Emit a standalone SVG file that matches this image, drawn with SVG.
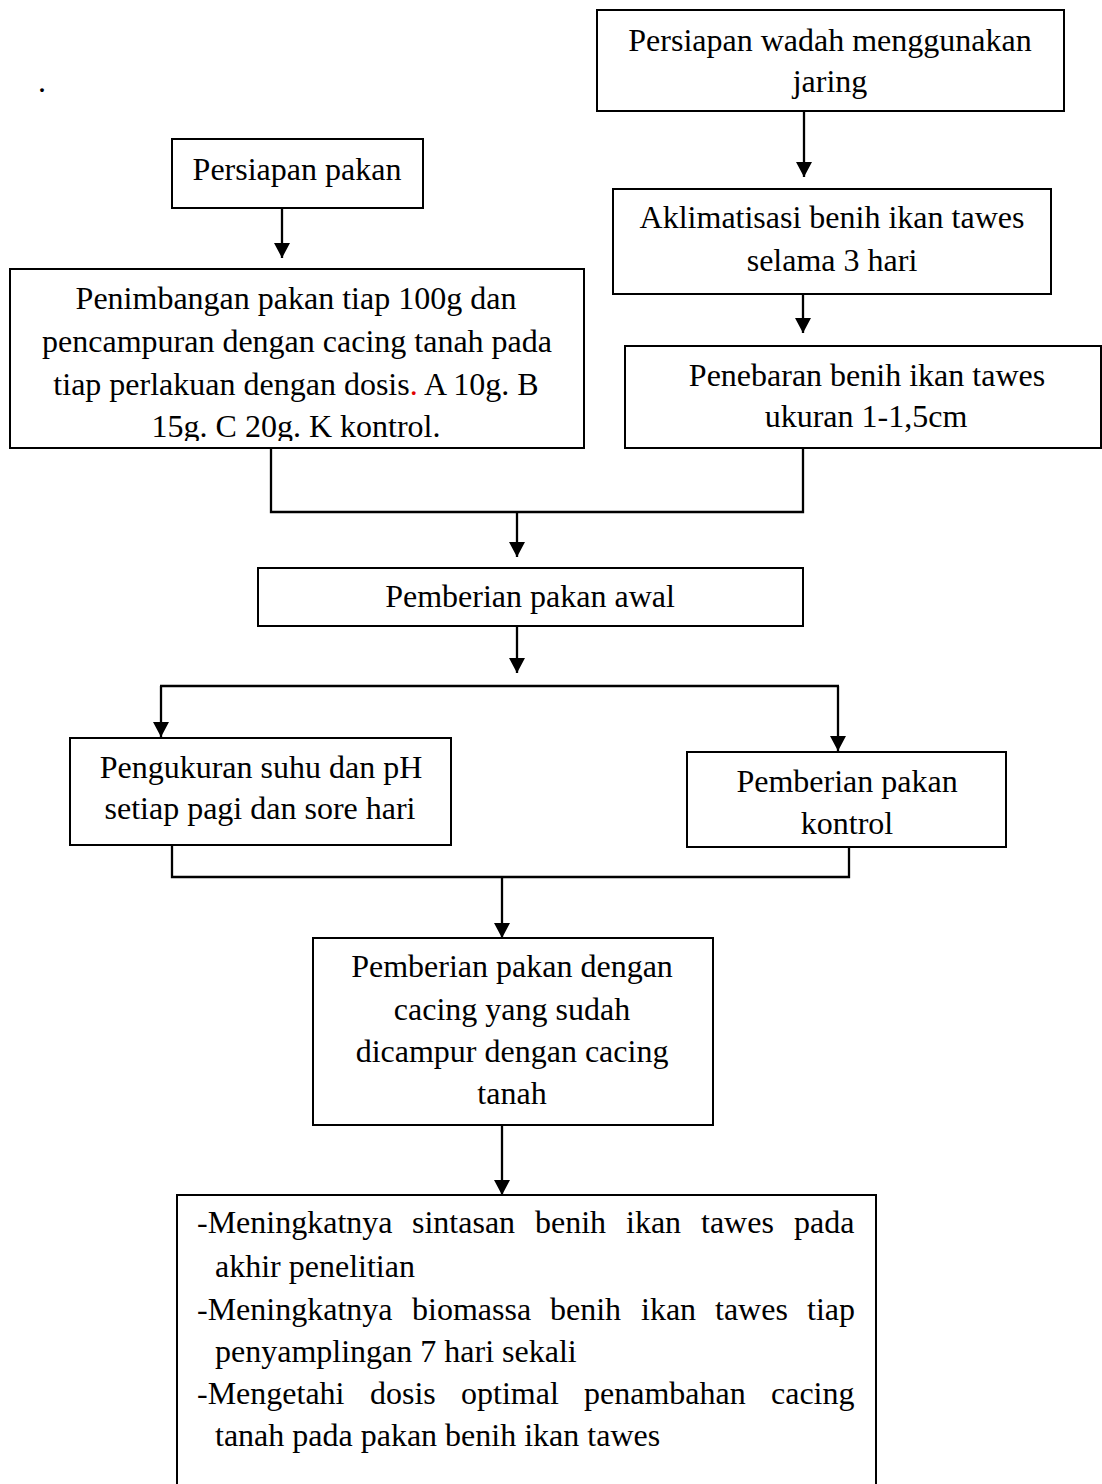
<svg xmlns="http://www.w3.org/2000/svg" width="1102" height="1484" viewBox="0 0 1102 1484">
<style>
.box{fill:#fff;stroke:#000;stroke-width:2}
.t{font-family:"Liberation Serif","Times New Roman",serif;font-size:32px;fill:#000}
.c{text-anchor:middle}
.ln{fill:none;stroke:#000;stroke-width:2.3}
</style>
<defs>
<marker id="ah" markerUnits="userSpaceOnUse" markerWidth="15" markerHeight="16" refX="15" refY="8" orient="auto">
<path d="M0,0 L15,8 L0,16 z" fill="#000"/>
</marker>
<clipPath id="clipL"><rect x="10" y="269" width="574" height="172"/></clipPath>
</defs>
<rect width="1102" height="1484" fill="#fff"/>
<text class="t" x="38" y="92">.</text>

<g id="connectors">
<line class="ln" x1="804" y1="112" x2="804" y2="177" marker-end="url(#ah)"/>
<line class="ln" x1="282" y1="208" x2="282" y2="258" marker-end="url(#ah)"/>
<line class="ln" x1="803" y1="294" x2="803" y2="333" marker-end="url(#ah)"/>
<polyline class="ln" points="271,448 271,512 803,512 803,448"/>
<line class="ln" x1="517" y1="512" x2="517" y2="557" marker-end="url(#ah)"/>
<line class="ln" x1="517" y1="626" x2="517" y2="673" marker-end="url(#ah)"/>
<line class="ln" x1="160" y1="686" x2="839" y2="686"/>
<line class="ln" x1="161" y1="686" x2="161" y2="737" marker-end="url(#ah)"/>
<line class="ln" x1="838" y1="686" x2="838" y2="751" marker-end="url(#ah)"/>
<polyline class="ln" points="172,846 172,877 849,877 849,847"/>
<line class="ln" x1="502" y1="877" x2="502" y2="938" marker-end="url(#ah)"/>
<line class="ln" x1="502" y1="1125" x2="502" y2="1195" marker-end="url(#ah)"/>
</g>

<g id="n-wadah">
<rect class="box" x="597" y="10" width="467" height="101"/>
<text class="t c" x="830" y="51">Persiapan wadah menggunakan</text>
<text class="t c" x="830" y="92">jaring</text>
</g>

<g id="n-pakan">
<rect class="box" x="172" y="139" width="251" height="69"/>
<text class="t c" x="297" y="180">Persiapan pakan</text>
</g>

<g id="n-aklimatisasi">
<rect class="box" x="613" y="189" width="438" height="105"/>
<text class="t c" x="832" y="228">Aklimatisasi benih ikan tawes</text>
<text class="t c" x="832" y="271">selama 3 hari</text>
</g>

<g id="n-penimbangan">
<rect class="box" x="10" y="269" width="574" height="179"/>
<g clip-path="url(#clipL)">
<text class="t c" x="296" y="309">Penimbangan pakan tiap 100g dan</text>
<text class="t c" x="297" y="352">pencampuran dengan cacing tanah pada</text>
<text class="t c" x="296" y="395">tiap perlakuan dengan dosis<tspan fill="#e00000">.</tspan> A 10g. B</text>
<text class="t c" x="296" y="437">15g. C 20g. K kontrol.</text>
</g>
</g>

<g id="n-penebaran">
<rect class="box" x="625" y="346" width="476" height="102"/>
<text class="t c" x="867" y="386">Penebaran benih ikan tawes</text>
<text class="t c" x="866" y="427">ukuran 1-1,5cm</text>
</g>

<g id="n-awal">
<rect class="box" x="258" y="568" width="545" height="58"/>
<text class="t c" x="530" y="607">Pemberian pakan awal</text>
</g>

<g id="n-pengukuran">
<rect class="box" x="70" y="738" width="381" height="107"/>
<text class="t c" x="261" y="778">Pengukuran suhu dan pH</text>
<text class="t c" x="260" y="819">setiap pagi dan sore hari</text>
</g>

<g id="n-kontrol">
<rect class="box" x="687" y="752" width="319" height="95"/>
<text class="t c" x="847" y="792">Pemberian pakan</text>
<text class="t c" x="847" y="834">kontrol</text>
</g>

<g id="n-cacing">
<rect class="box" x="313" y="938" width="400" height="187"/>
<text class="t c" x="512" y="977">Pemberian pakan dengan</text>
<text class="t c" x="512" y="1020">cacing yang sudah</text>
<text class="t c" x="512" y="1062">dicampur dengan cacing</text>
<text class="t c" x="512" y="1104">tanah</text>
</g>

<g id="n-hasil">
<rect class="box" x="177" y="1195" width="699" height="320"/>
<text class="t" y="1233"><tspan x="197">-Meningkatnya</tspan><tspan x="412">sintasan</tspan><tspan x="535">benih</tspan><tspan x="626">ikan</tspan><tspan x="701">tawes</tspan><tspan x="794">pada</tspan></text>
<text class="t" x="215" y="1277">akhir penelitian</text>
<text class="t" y="1320"><tspan x="197">-Meningkatnya</tspan><tspan x="412">biomassa</tspan><tspan x="550">benih</tspan><tspan x="641">ikan</tspan><tspan x="715">tawes</tspan><tspan x="807">tiap</tspan></text>
<text class="t" x="215" y="1362">penyamplingan 7 hari sekali</text>
<text class="t" y="1404"><tspan x="197">-Mengetahi</tspan><tspan x="370">dosis</tspan><tspan x="461">optimal</tspan><tspan x="584">penambahan</tspan><tspan x="771">cacing</tspan></text>
<text class="t" x="215" y="1446">tanah pada pakan benih ikan tawes</text>
</g>
</svg>
